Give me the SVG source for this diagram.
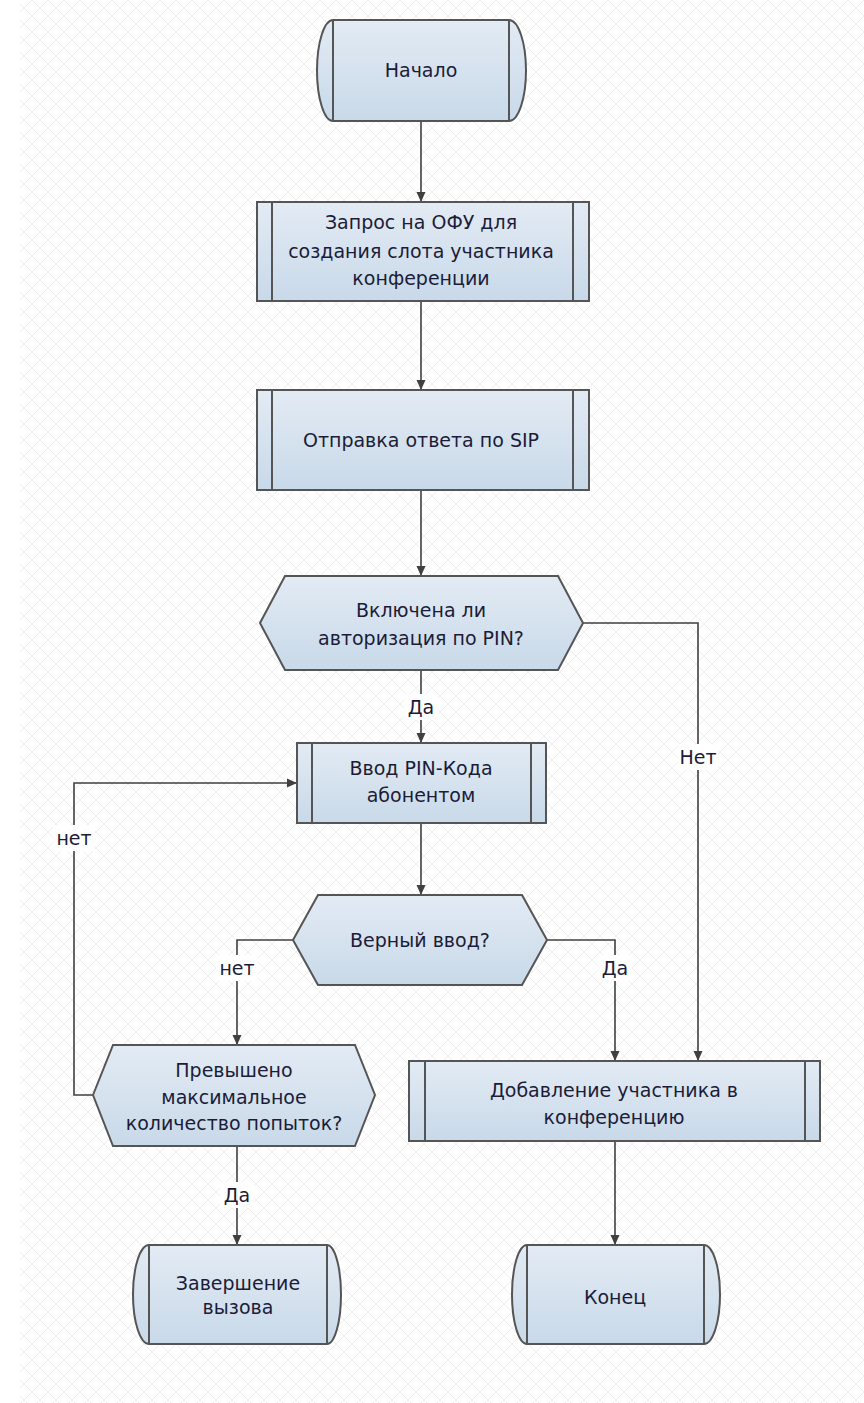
<svg xmlns="http://www.w3.org/2000/svg" width="864" height="1403" viewBox="0 0 864 1403">
<defs>
<pattern id="grid" width="16" height="16" patternUnits="userSpaceOnUse">
<path d="M0,0 L16,16 M16,0 L0,16" stroke="#ededed" stroke-width="1" fill="none"/>
</pattern>
<linearGradient id="fillg" x1="0" y1="0" x2="0" y2="1">
<stop offset="0" stop-color="#e3ebf4"/>
<stop offset="1" stop-color="#c8d9e9"/>
</linearGradient>
<marker id="arr" viewBox="0 0 10 10" refX="10" refY="5" markerWidth="10" markerHeight="10" markerUnits="userSpaceOnUse" orient="auto">
<path d="M0,0.5 L10,5 L0,9.5 Z" fill="#404040"/>
</marker>
<style>
.shape{fill:url(#fillg);stroke:#555;stroke-width:2}
.inner{stroke:#555;stroke-width:2;fill:none}
.t{font-family:"DejaVu Sans",sans-serif;font-size:19px;fill:#1c1c38;text-anchor:middle}
.lbl{font-family:"DejaVu Sans",sans-serif;font-size:19px;fill:#1c1c38;text-anchor:middle}
.c{stroke:#404040;stroke-width:1.6;fill:none}
.bg{fill:#ffffff}
</style>
</defs>
<rect width="864" height="1403" fill="#ffffff"/>
<rect x="20" y="0" width="844" height="1403" fill="url(#grid)"/>

<g id="connectors">
<path class="c" d="M421,121 V202" marker-end="url(#arr)"/>
<path class="c" d="M421,301 V390" marker-end="url(#arr)"/>
<path class="c" d="M421,490 V576" marker-end="url(#arr)"/>
<path class="c" d="M421,670 V743" marker-end="url(#arr)"/>
<path class="c" d="M583,623 H698 V1061" marker-end="url(#arr)"/>
<path class="c" d="M421,823 V895" marker-end="url(#arr)"/>
<path class="c" d="M293,940 H237 V1045" marker-end="url(#arr)"/>
<path class="c" d="M547,940 H615 V1061" marker-end="url(#arr)"/>
<path class="c" d="M93,1095 H74 V783 H297" marker-end="url(#arr)"/>
<path class="c" d="M237,1146 V1245" marker-end="url(#arr)"/>
<path class="c" d="M615,1141 V1245" marker-end="url(#arr)"/>
<rect class="bg" x="404" y="694" width="34" height="26"/>
<text class="lbl" x="421" y="714">Да</text>
<rect class="bg" x="678" y="744" width="40" height="26"/>
<text class="lbl" x="698" y="764">Нет</text>
<rect class="bg" x="216" y="955" width="42" height="26"/>
<text class="lbl" x="237" y="975">нет</text>
<rect class="bg" x="598" y="955" width="34" height="26"/>
<text class="lbl" x="615" y="975">Да</text>
<rect class="bg" x="53" y="825" width="42" height="26"/>
<text class="lbl" x="74" y="845">нет</text>
<rect class="bg" x="220" y="1182" width="34" height="26"/>
<text class="lbl" x="237" y="1202">Да</text>
</g>

<g id="start">
<path class="shape" d="M333,20 H509 A17,50.5 0 0 1 509,121 H333 A16,50.5 0 0 1 333,20 Z"/>
<path class="inner" d="M333,20 V121 M509,20 V121"/>
<text class="t" x="421" y="77">Начало</text>
</g>

<g id="request">
<rect class="shape" x="257" y="202" width="332" height="99"/>
<path class="inner" d="M272,202 V301 M573,202 V301"/>
<text class="t" x="421" y="229">Запрос на ОФУ для</text>
<text class="t" x="421" y="258">создания слота участника</text>
<text class="t" x="421" y="285">конференции</text>
</g>

<g id="sip">
<rect class="shape" x="257" y="390" width="332" height="100"/>
<path class="inner" d="M272,390 V490 M573,390 V490"/>
<text class="t" x="421" y="447">Отправка ответа по SIP</text>
</g>

<g id="pin-check">
<polygon class="shape" points="260,623 285,576 558,576 583,623 558,670 285,670"/>
<text class="t" x="421" y="617">Включена ли</text>
<text class="t" x="421" y="645">авторизация по PIN?</text>
</g>

<g id="pin-input">
<rect class="shape" x="297" y="743" width="249" height="80"/>
<path class="inner" d="M312,743 V823 M531,743 V823"/>
<text class="t" x="421" y="775">Ввод PIN-Кода</text>
<text class="t" x="421" y="802">абонентом</text>
</g>

<g id="correct">
<polygon class="shape" points="293,940 318,895 522,895 547,940 522,985 318,985"/>
<text class="t" x="420" y="947">Верный ввод?</text>
</g>

<g id="exceeded">
<polygon class="shape" points="93,1095 113,1045 355,1045 375,1095 355,1146 113,1146"/>
<text class="t" x="234" y="1077">Превышено</text>
<text class="t" x="234" y="1104">максимальное</text>
<text class="t" x="234" y="1130">количество попыток?</text>
</g>

<g id="add">
<rect class="shape" x="409" y="1061" width="411" height="80"/>
<path class="inner" d="M425,1061 V1141 M805,1061 V1141"/>
<text class="t" x="614" y="1097">Добавление участника в</text>
<text class="t" x="614" y="1124">конференцию</text>
</g>

<g id="end-call">
<path class="shape" d="M149,1245 H327 A14,49.5 0 0 1 327,1344 H149 A16,49.5 0 0 1 149,1245 Z"/>
<path class="inner" d="M149,1245 V1344 M327,1245 V1344"/>
<text class="t" x="238" y="1290">Завершение</text>
<text class="t" x="238" y="1314">вызова</text>
</g>

<g id="end">
<path class="shape" d="M527,1245 H704 A16,49.5 0 0 1 704,1344 H527 A15,49.5 0 0 1 527,1245 Z"/>
<path class="inner" d="M527,1245 V1344 M704,1245 V1344"/>
<text class="t" x="615" y="1304">Конец</text>
</g>
</svg>
